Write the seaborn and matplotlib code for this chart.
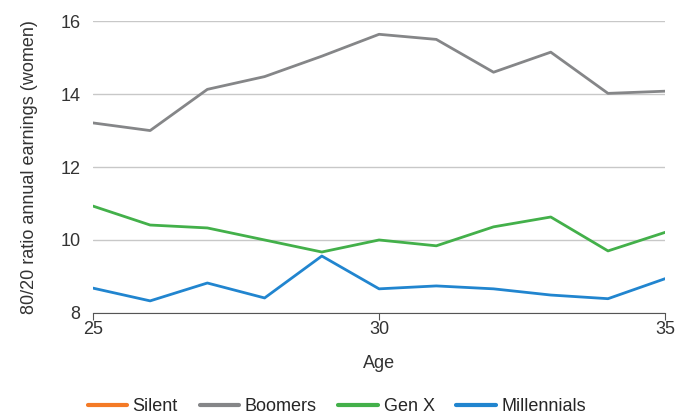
import pandas as pd
import numpy as np
import matplotlib
matplotlib.use("Agg")
import matplotlib.pyplot as plt
import seaborn as sns
from matplotlib.lines import Line2D

# Data
ages = [25, 26, 27, 28, 29, 30, 31, 32, 33, 34, 35]
silent = []  # no values in the visible age range
boomers = [13.21, 13.0, 14.13, 14.48, 15.04, 15.64, 15.50, 14.60, 15.15, 14.02, 14.08]
gen_x = [10.93, 10.41, 10.33, 10.0, 9.67, 10.0, 9.84, 10.36, 10.63, 9.70, 10.21]
millennials = [8.68, 8.33, 8.82, 8.41, 9.56, 8.66, 8.74, 8.66, 8.49, 8.39, 8.94]

colors = {"Silent": "#f47a26", "Boomers": "#858688",
          "Gen X": "#43b04a", "Millennials": "#2185cf"}

df = pd.DataFrame({"Age": ages, "Boomers": boomers, "Gen X": gen_x,
                   "Millennials": millennials})
long_df = df.melt(id_vars="Age", var_name="generation", value_name="ratio")

sns.set_style("white")
plt.rcParams['font.family'] = ['Liberation Sans', 'DejaVu Sans']

fig = plt.figure(figsize=(6.83, 4.15), dpi=100)
ax = fig.add_axes([0.136, 0.246, 0.838, 0.703])

sns.lineplot(data=long_df, x="Age", y="ratio", hue="generation",
             palette=colors, linewidth=2, ax=ax, legend=False)

ax.set_xlim(25, 35)
ax.set_ylim(8, 16)
ax.set_xticks([25, 30, 35])
ax.set_yticks([8, 10, 12, 14, 16])
ax.yaxis.grid(True, color="#c8c8c8", linewidth=1)
ax.set_axisbelow(True)
for s in ["left", "right", "top"]:
    ax.spines[s].set_visible(False)
ax.spines["bottom"].set_color("#555555")
ax.tick_params(axis="x", length=5, color="#555555", labelsize=13, pad=1,
               bottom=True, direction="out")
ax.tick_params(axis="y", length=0, labelsize=13, pad=9)
ax.set_xlabel("Age", fontsize=13, color="#333333", labelpad=12)
ax.set_ylabel("80/20 ratio annual earnings (women)", fontsize=13,
              color="#333333", labelpad=16)
for lab in ax.get_xticklabels() + ax.get_yticklabels():
    lab.set_color("#333333")

names = ["Silent", "Boomers", "Gen X", "Millennials"]
handles = [Line2D([], [], color=colors[n], linewidth=3) for n in names]
fig.legend(handles, names, loc="center", ncol=4, frameon=False,
           bbox_to_anchor=(0.493, 0.02), fontsize=13, handlelength=2.2,
           columnspacing=1.2, handletextpad=0.3)

fig.savefig("out.png", dpi=100)
